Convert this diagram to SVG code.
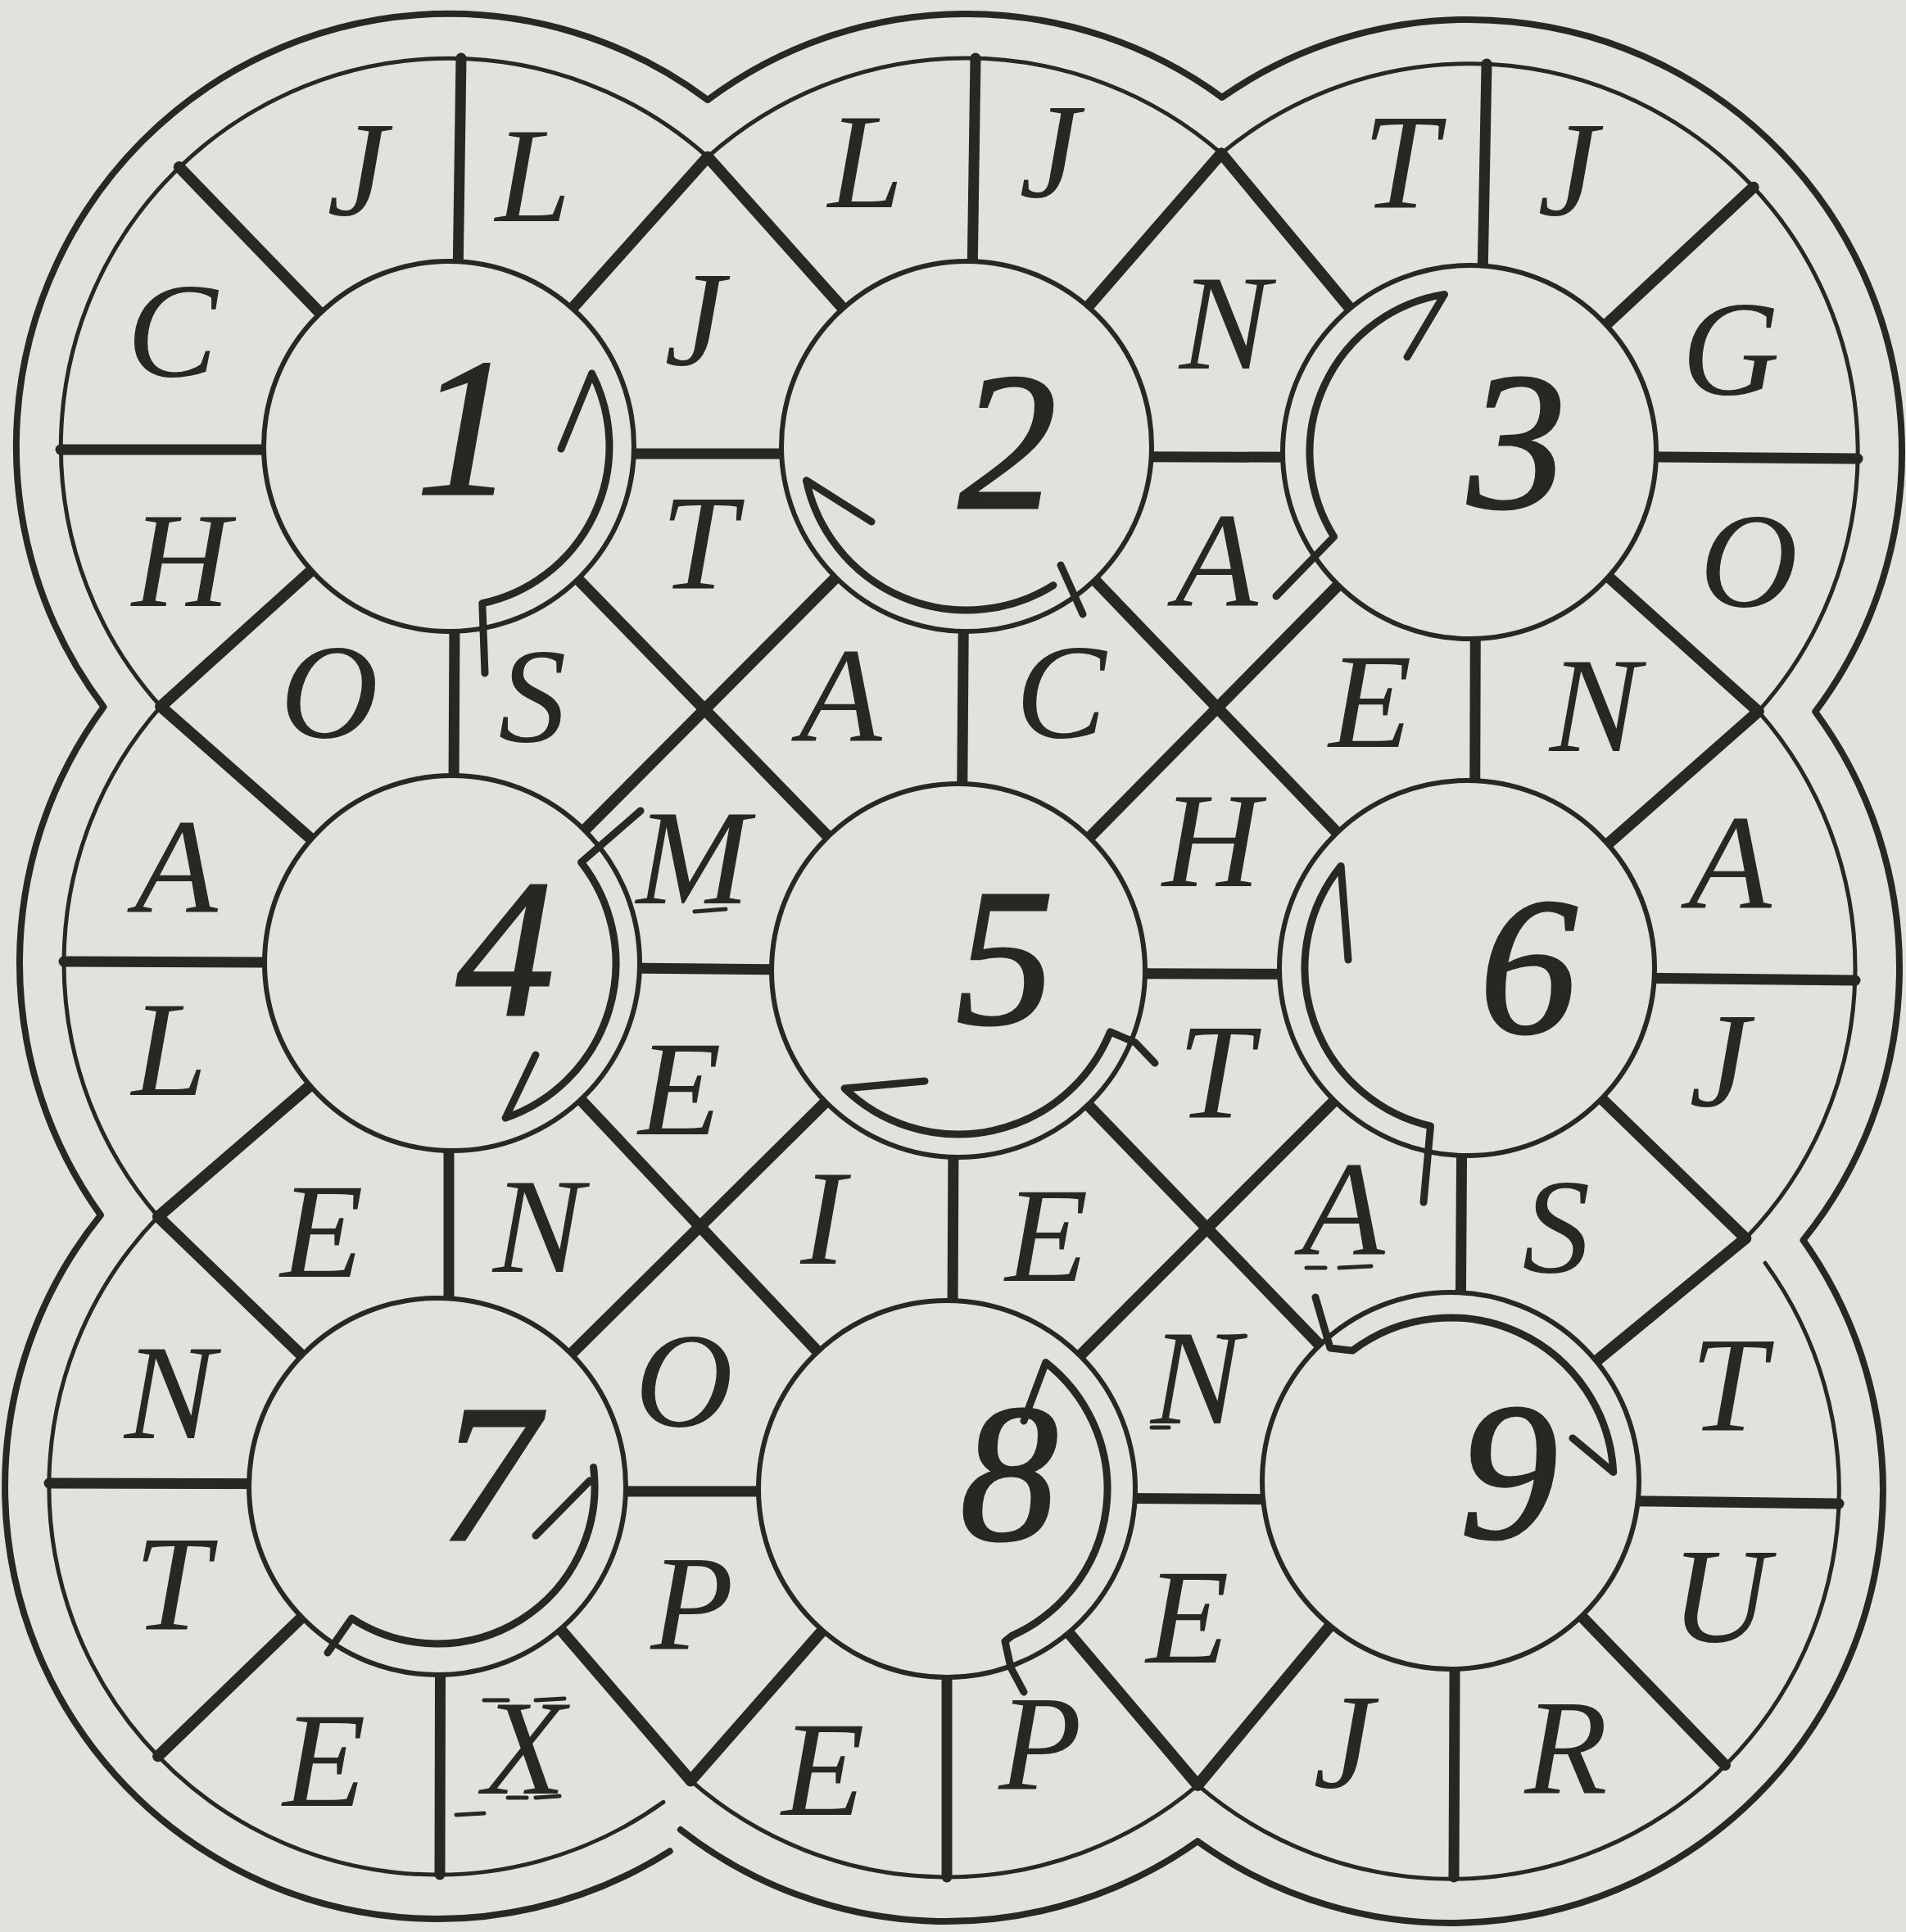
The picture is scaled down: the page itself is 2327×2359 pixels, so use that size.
<svg xmlns="http://www.w3.org/2000/svg" width="2327" height="2359" viewBox="0 0 2327 2359">
<style>
.ink{stroke:#262921;fill:none;stroke-linecap:round;stroke-linejoin:round}
.thick{stroke-width:8}
.thin{stroke-width:5}
.sp{stroke-width:13}
.dg{stroke-width:14}
.disc{fill:#e1e2dc;stroke:#262921;stroke-width:6}
.arr{stroke:#262921;fill:none;stroke-width:9;stroke-linecap:round;stroke-linejoin:round}
.ul{stroke:#262921;stroke-width:5;stroke-linecap:round}
text{fill:#262921;font-family:'Liberation Serif','DejaVu Serif',serif;font-style:italic;text-anchor:middle}
.l{font-size:166px}
.n{font-size:240px;font-weight:normal;stroke:#262921;stroke-width:3}
</style>
<rect width="2327" height="2359" fill="#e1e2dc"/>
<g id="boundary" class="ink">
<path class="thick" d="M817.7,2260.3 A528,528 0 0 1 122.9,1483.7 A528,528 0 0 1 126.6,863.2 A528,528 0 0 1 864,122 A528,528 0 0 1 1491.9,118.9 A528,528 0 0 1 2216.2,869 A528,528 0 0 1 2201.4,1514.2 A528,528 0 0 1 1462.1,2248.2 A528,528 0 0 1 830.9,2234.1"/>
<path class="thin" d="M809.9,2200.4 A474,474 0 0 1 193.1,1485.6 A474,474 0 0 1 196.3,862.7 A474,474 0 0 1 864,191.7 A474,474 0 0 1 1491.1,187.4 A474,474 0 0 1 2146.7,868.7 A474,474 0 0 1 2131.2,1512 M2155.1,1542.1 A474,474 0 0 1 1462.3,2179.7 A474,474 0 0 1 843.3,2174.2"/>
</g>
<g id="connectors" class="ink">
<g class="sp">
<line x1="548" y1="554" x2="1180" y2="554"/>
<line x1="1180" y1="557" x2="1794" y2="559"/>
<line x1="552" y1="1180" x2="1170" y2="1186"/>
<line x1="1170" y1="1188" x2="1791" y2="1190"/>
<line x1="534" y1="1821" x2="1156" y2="1821"/>
<line x1="1156" y1="1828" x2="1771" y2="1832"/>
<line x1="556" y1="545" x2="553" y2="1176"/>
<line x1="1178" y1="545" x2="1173" y2="1185"/>
<line x1="1802" y1="552" x2="1800" y2="1182"/>
<line x1="548" y1="1176" x2="548" y2="1815"/>
<line x1="1165" y1="1185" x2="1162" y2="1818"/>
<line x1="1786" y1="1182" x2="1782" y2="1808"/>
<line x1="556" y1="545" x2="563" y2="71"/>
<line x1="1184" y1="545" x2="1191" y2="71"/>
<line x1="1806" y1="552" x2="1815" y2="78"/>
<line x1="548" y1="549" x2="74" y2="549"/>
<line x1="552" y1="1176" x2="78" y2="1174"/>
<line x1="534" y1="1812" x2="60" y2="1811"/>
<line x1="1794" y1="556" x2="2268" y2="560"/>
<line x1="1791" y1="1192" x2="2265" y2="1197"/>
<line x1="1771" y1="1830" x2="2245" y2="1836"/>
<line x1="538" y1="1815" x2="537" y2="2289"/>
<line x1="1156" y1="1818" x2="1156" y2="2292"/>
<line x1="1777" y1="1808" x2="1775" y2="2292"/>
</g>
<g class="dg">
<line x1="548" y1="545" x2="1170" y2="1185"/>
<line x1="1180" y1="545" x2="552" y2="1176"/>
<line x1="1180" y1="545" x2="1791" y2="1182"/>
<line x1="1794" y1="552" x2="1170" y2="1185"/>
<line x1="552" y1="1176" x2="1156" y2="1818"/>
<line x1="1170" y1="1185" x2="534" y2="1815"/>
<line x1="1170" y1="1185" x2="1771" y2="1808"/>
<line x1="1791" y1="1182" x2="1156" y2="1818"/>
<line x1="548" y1="545" x2="218.7" y2="204"/>
<line x1="1794" y1="552" x2="2140.7" y2="228.7"/>
<line x1="534" y1="1815" x2="193" y2="2144.3"/>
<line x1="1771" y1="1808" x2="2106" y2="2155"/>
<line x1="548" y1="545" x2="864" y2="191.7"/>
<line x1="1180" y1="545" x2="864" y2="191.7"/>
<line x1="1180" y1="545" x2="1491.1" y2="187.4"/>
<line x1="1794" y1="552" x2="1491.1" y2="187.4"/>
<line x1="1794" y1="552" x2="2146.7" y2="868.7"/>
<line x1="1791" y1="1182" x2="2146.7" y2="868.7"/>
<line x1="1791" y1="1182" x2="2131.2" y2="1512"/>
<line x1="1771" y1="1808" x2="2131.2" y2="1512"/>
<line x1="1771" y1="1808" x2="1462.3" y2="2179.7"/>
<line x1="1156" y1="1818" x2="1462.3" y2="2179.7"/>
<line x1="1156" y1="1818" x2="843.3" y2="2174.2"/>
<line x1="534" y1="1815" x2="843.3" y2="2174.2"/>
<line x1="534" y1="1815" x2="193.1" y2="1485.6"/>
<line x1="552" y1="1176" x2="193.1" y2="1485.6"/>
<line x1="552" y1="1176" x2="196.3" y2="862.7"/>
<line x1="548" y1="545" x2="196.3" y2="862.7"/>
</g>
</g>
<g id="node-1">
<circle class="disc" cx="548" cy="545" r="226"/>
<path class="arr" d="M722.6,456 A196,196 0 0 1 588.8,736.7 M722.6,456 L685,548 M588.8,736.7 L592,822"/>
<text class="n" x="568" y="603">1</text>
</g>
<g id="node-2">
<circle class="disc" cx="1180" cy="545" r="226"/>
<path class="arr" d="M984.4,586.6 A200,200 0 0 0 1286,714.6 M984.4,586.6 L1064,637 M1295,690 L1322,750"/>
<text class="n" x="1230" y="620">2</text>
</g>
<g id="node-3">
<circle class="disc" cx="1794" cy="552" r="228"/>
<path class="arr" d="M1763.5,359.4 A195,195 0 0 0 1628.6,655.3 M1763.5,359.4 L1718,436 M1628.6,655.3 L1558,728"/>
<text class="n" x="1852" y="620">3</text>
</g>
<g id="node-4">
<circle class="disc" cx="552" cy="1176" r="229"/>
<path class="arr" d="M709.6,1052.9 A200,200 0 0 1 617.1,1365.1 M617.1,1365.1 L654,1288 M709.6,1052.9 L782,990"/>
<text class="n" x="617" y="1239">4</text>
</g>
<g id="node-5">
<circle class="disc" cx="1170" cy="1185" r="228"/>
<path class="arr" d="M1031.1,1328.9 A200,200 0 0 0 1355.4,1259.9 M1031.1,1328.9 L1129,1320 M1355.4,1259.9 L1386,1273 L1410,1298"/>
<text class="n" x="1227" y="1250">5</text>
</g>
<g id="node-6">
<circle class="disc" cx="1791" cy="1182" r="229"/>
<path class="arr" d="M1637.1,1057.4 A198,198 0 0 0 1746.5,1374.9 M1637.1,1057.4 L1646,1172 M1746.5,1374.9 L1738,1468"/>
<text class="n" x="1866" y="1261">6</text>
</g>
<g id="node-7">
<circle class="disc" cx="534" cy="1815" r="230"/>
<path class="arr" d="M724.6,1791.6 A192,192 0 0 1 429.4,1976 M720,1808 L654,1875 M429.4,1976 L400,2018"/>
<text class="n" x="597" y="1880">7</text>
</g>
<g id="node-8">
<circle class="disc" cx="1156" cy="1818" r="230"/>
<path class="arr" d="M1276.7,1663.6 A196,196 0 0 1 1235.7,1997.1 M1276.7,1663.6 L1250,1735 M1235.7,1997.1 L1227,2004 L1234,2036 L1250,2066"/>
<text class="n" x="1232" y="1880">8</text>
</g>
<g id="node-9">
<circle class="disc" cx="1771" cy="1808" r="230"/>
<path class="arr" d="M1651.2,1649.1 A199,199 0 0 1 1969.7,1797.6 M1969.7,1797.6 L1920,1756 M1606,1584 L1624,1646 L1651.2,1649.1"/>
<text class="n" x="1842" y="1878">9</text>
</g>
<g id="cells">
<text class="l" x="436" y="262">J</text>
<text class="l" x="651" y="270">L</text>
<text class="l" x="210" y="459">C</text>
<text class="l" x="848" y="445">J</text>
<text class="l" x="221" y="740">H</text>
<text class="l" x="853" y="718">T</text>
<text class="l" x="402" y="900">O</text>
<text class="l" x="650" y="905">S</text>
<text class="l" x="1057" y="253">L</text>
<text class="l" x="1281" y="240">J</text>
<text class="l" x="1495" y="450">N</text>
<text class="l" x="1485" y="740">A</text>
<text class="l" x="1026" y="905">A</text>
<text class="l" x="1295" y="900">C</text>
<text class="l" x="1710" y="253">T</text>
<text class="l" x="1914" y="262">J</text>
<text class="l" x="2113" y="482">G</text>
<text class="l" x="2135" y="740">O</text>
<text class="l" x="1673" y="912">E</text>
<text class="l" x="1947" y="917">N</text>
<text class="l" x="215" y="1114">A</text>
<text class="l" x="846" y="1103">M</text>
<text class="l" x="1479" y="1082">H</text>
<text class="l" x="2112" y="1109">A</text>
<text class="l" x="207" y="1337">L</text>
<text class="l" x="830" y="1385">E</text>
<text class="l" x="1484" y="1364">T</text>
<text class="l" x="2099" y="1350">J</text>
<text class="l" x="393" y="1559">E</text>
<text class="l" x="657" y="1553">N</text>
<text class="l" x="1005" y="1543">I</text>
<text class="l" x="1278" y="1564">E</text>
<text class="l" x="1640" y="1532">A</text>
<text class="l" x="1900" y="1553">S</text>
<text class="l" x="207" y="1756">N</text>
<text class="l" x="835" y="1741">O</text>
<text class="l" x="1460" y="1738">N</text>
<text class="l" x="2110" y="1746">T</text>
<text class="l" x="210" y="1989">T</text>
<text class="l" x="845" y="2014">P</text>
<text class="l" x="1450" y="2030">E</text>
<text class="l" x="2100" y="2004">U</text>
<text class="l" x="396" y="2205">E</text>
<text class="l" x="640" y="2190">X</text>
<text class="l" x="1005" y="2216">E</text>
<text class="l" x="1270" y="2185">P</text>
<text class="l" x="1640" y="2182">J</text>
<text class="l" x="1912" y="2190">R</text>
</g>
<g id="marks">
<line class="ul" x1="848" y1="1113" x2="886" y2="1110"/>
<line class="ul" x1="1595" y1="1548" x2="1618" y2="1548"/>
<line class="ul" x1="1635" y1="1548" x2="1674" y2="1546"/>
<line class="ul" x1="1493" y1="1633" x2="1520" y2="1631"/>
<line class="ul" x1="1406" y1="1743" x2="1427" y2="1743"/>
<line class="ul" x1="591" y1="2076" x2="620" y2="2076"/>
<line class="ul" x1="654" y1="2076" x2="689" y2="2074"/>
<line class="ul" x1="557" y1="2216" x2="591" y2="2214"/>
<line class="ul" x1="620" y1="2195" x2="643" y2="2195"/>
<line class="ul" x1="654" y1="2195" x2="683" y2="2193"/>
</g>
</svg>
